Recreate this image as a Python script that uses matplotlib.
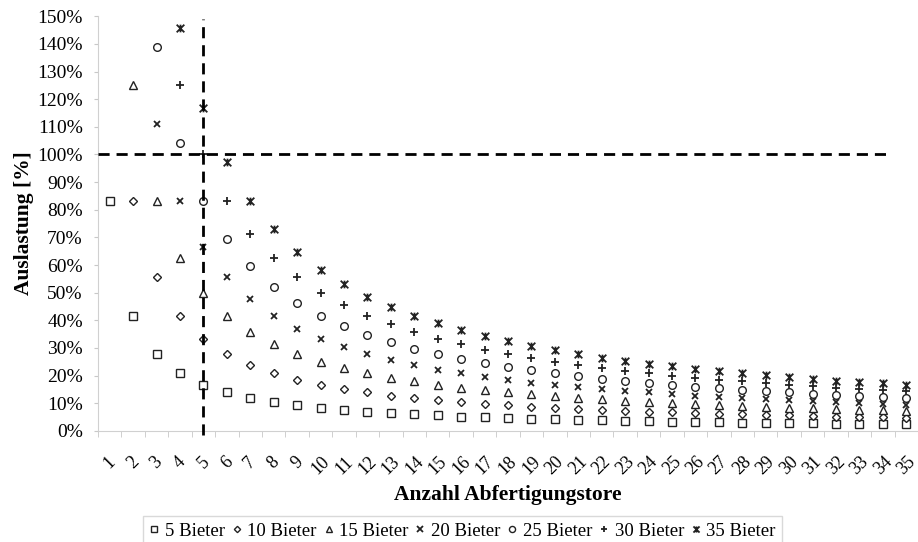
import matplotlib.pyplot as plt
import numpy as np
from matplotlib.path import Path

plt.rcParams['font.family'] = ['Liberation Serif', 'DejaVu Serif']

# Anzahl Abfertigungstore (Kategorien)
gates = list(range(1, 36))

# Auslastung in %; None = ausserhalb des Diagramms (> 150 %)
bieter_5 = [83.3, 41.7, 27.8, 20.8, 16.7, 13.9, 11.9, 10.4, 9.3, 8.3, 7.6, 6.9, 6.4, 6.0, 5.6, 5.2, 4.9, 4.6,
            4.4, 4.2, 4.0, 3.8, 3.6, 3.5, 3.3, 3.2, 3.1, 3.0, 2.9, 2.8, 2.7, 2.6, 2.5, 2.5, 2.4]
bieter_10 = [None, 83.3, 55.6, 41.7, 33.3, 27.8, 23.8, 20.8, 18.5, 16.7, 15.2, 13.9, 12.8, 11.9, 11.1, 10.4, 9.8,
             9.3, 8.8, 8.3, 7.9, 7.6, 7.2, 6.9, 6.7, 6.4, 6.2, 6.0, 5.7, 5.6, 5.4, 5.2, 5.1, 4.9, 4.8]
bieter_15 = [None, 125.0, 83.3, 62.5, 50.0, 41.7, 35.7, 31.3, 27.8, 25.0, 22.7, 20.8, 19.2, 17.9, 16.7, 15.6, 14.7,
             13.9, 13.2, 12.5, 11.9, 11.4, 10.9, 10.4, 10.0, 9.6, 9.3, 8.9, 8.6, 8.3, 8.1, 7.8, 7.6, 7.4, 7.1]
bieter_20 = [None, None, 111.1, 83.3, 66.7, 55.6, 47.6, 41.7, 37.0, 33.3, 30.3, 27.8, 25.6, 23.8, 22.2, 20.8, 19.6,
             18.5, 17.5, 16.7, 15.9, 15.2, 14.5, 13.9, 13.3, 12.8, 12.3, 11.9, 11.5, 11.1, 10.8, 10.4, 10.1, 9.8, 9.5]
bieter_25 = [None, None, 138.9, 104.2, 83.3, 69.4, 59.5, 52.1, 46.3, 41.7, 37.9, 34.7, 32.1, 29.8, 27.8, 26.0, 24.5,
             23.1, 21.9, 20.8, 19.8, 18.9, 18.1, 17.4, 16.7, 16.0, 15.4, 14.9, 14.4, 13.9, 13.4, 13.0, 12.6, 12.3, 11.9]
bieter_30 = [None, None, None, 125.0, 100.0, 83.3, 71.4, 62.5, 55.6, 50.0, 45.5, 41.7, 38.5, 35.7, 33.3, 31.3, 29.4,
             27.8, 26.3, 25.0, 23.8, 22.7, 21.7, 20.8, 20.0, 19.2, 18.5, 17.9, 17.2, 16.7, 16.1, 15.6, 15.2, 14.7, 14.3]
bieter_35 = [None, None, None, 145.8, 116.7, 97.2, 83.3, 72.9, 64.8, 58.3, 53.0, 48.6, 44.9, 41.7, 38.9, 36.5, 34.3,
             32.4, 30.7, 29.2, 27.8, 26.5, 25.4, 24.3, 23.3, 22.4, 21.6, 20.8, 20.1, 19.4, 18.8, 18.2, 17.7, 17.2, 16.7]

series_labels = ['5 Bieter', '10 Bieter', '15 Bieter', '20 Bieter', '25 Bieter', '30 Bieter', '35 Bieter']
series_values = [bieter_5, bieter_10, bieter_15, bieter_20, bieter_25, bieter_30, bieter_35]

# Excel-"Stern": x mit senkrechtem Strich
star = Path([(-1, -1), (1, 1), (-1, 1), (1, -1), (0, -1), (0, 1)],
            [Path.MOVETO, Path.LINETO, Path.MOVETO, Path.LINETO, Path.MOVETO, Path.LINETO])
markers = [('s', 5.5, True), ('D', 4, True), ('^', 5.5, True), ('x', 5, False),
           ('o', 5.5, True), ('+', 6, False), (star, 5.5, False)]

fig = plt.figure(figsize=(9.18, 5.42), dpi=100)
ax = fig.add_axes([0.1068, 0.205, 0.8932, 0.765])

for label, values, (m, ms, hollow) in zip(series_labels, series_values, markers):
    y = np.array([np.nan if v is None else v for v in values], dtype=float)
    if hollow:
        ax.plot(gates, y, linestyle='none', marker=m, markersize=ms, markerfacecolor='white',
                markeredgecolor='#222222', markeredgewidth=1.0, label=label)
    else:
        ax.plot(gates, y, linestyle='none', marker=m, markersize=ms, color='#222222',
                markeredgewidth=1.3, label=label)

# Grenzlinien
ax.plot([0.5, 34.2], [100, 100], color='black', linewidth=2, dashes=(4, 2.5), clip_on=False, zorder=5)
ax.plot([5, 5], [-1.5, 149], color='black', linewidth=2, dashes=(4, 2.5), clip_on=False, zorder=5)

ax.set_xlim(0.5, 35.5)
ax.set_ylim(0, 150)
ax.set_yticks(np.arange(0, 151, 10))
ax.set_yticklabels([f'{v}%' for v in range(0, 151, 10)], fontsize=14)
ax.set_xticks(gates)
ax.set_xticklabels([str(g) for g in gates], fontsize=13, rotation=45, ha='center', va='top')
ax.set_xticks(np.arange(0.5, 36, 1), minor=True)
ax.tick_params(axis='x', which='major', length=0, pad=16)
ax.tick_params(axis='x', which='minor', length=4, color='#c8c8c8')
ax.tick_params(axis='y', length=3, color='#c8c8c8', pad=8)

for side in ['top', 'right']:
    ax.spines[side].set_visible(False)
for side in ['left', 'bottom']:
    ax.spines[side].set_color('#d0d0d0')

ax.set_ylabel('Auslastung [%]', fontsize=15.5, fontweight='bold', labelpad=2)
ax.set_xlabel('Anzahl Abfertigungstore', fontsize=15.5, fontweight='bold', labelpad=5)

leg = fig.legend(loc='center', bbox_to_anchor=(0.504, 0.02), ncol=7, fontsize=13.5, frameon=True,
                 fancybox=False, handlelength=0.5, handletextpad=0.3, columnspacing=0.4,
                 borderpad=0.35, markerscale=0.8)
leg.get_frame().set_edgecolor('#d0d0d0')
leg.get_frame().set_linewidth(1)

fig.savefig('out.png', dpi=100)
